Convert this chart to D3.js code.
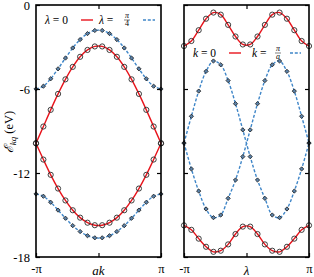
<!DOCTYPE html>
<html><head><meta charset="utf-8">
<script src="https://cdn.jsdelivr.net/npm/d3@7"></script>
<style>body{margin:0;background:#fff}svg{display:block}text{font-family:"Liberation Serif","DejaVu Serif",serif;fill:#000}</style>
</head><body><svg id="c" width="314" height="277"></svg>
<script>
// positions along the axis, in units of pi (18 sample points)
const samples = [-1, -0.882, -0.765, -0.647, -0.529, -0.412, -0.294, -0.176, -0.059, 0.059, 0.176, 0.294, 0.412, 0.529, 0.647, 0.765, 0.882, 1];
// Left panel: E vs ak
const redUpperL  = [-9.88, -8.68, -7.49, -6.35, -5.31, -4.42, -3.70, -3.21, -2.96, -2.96, -3.21, -3.70, -4.42, -5.31, -6.35, -7.49, -8.68, -9.88];
const redLowerL  = [-9.88, -11.04, -12.13, -13.11, -13.96, -14.66, -15.19, -15.55, -15.73, -15.73, -15.55, -15.19, -14.66, -13.96, -13.11, -12.13, -11.04, -9.88];
const blueUpperL = [-6.00, -5.80, -5.27, -4.56, -3.79, -3.07, -2.47, -2.04, -1.82, -1.82, -2.04, -2.47, -3.07, -3.79, -4.56, -5.27, -5.80, -6.00];
const blueLowerL = [-13.50, -13.66, -14.09, -14.65, -15.23, -15.76, -16.18, -16.48, -16.63, -16.63, -16.48, -16.18, -15.76, -15.23, -14.65, -14.09, -13.66, -13.50];
// Right panel: E vs lambda
const redUpperR = [-2.93, -2.57, -1.80, -0.98, -0.54, -0.69, -1.42, -2.25, -2.82, -2.82, -2.25, -1.42, -0.69, -0.54, -0.98, -1.80, -2.57, -2.93];
const redLowerR = [-15.74, -16.06, -16.69, -17.27, -17.63, -17.55, -17.10, -16.36, -15.83, -15.83, -16.36, -17.10, -17.55, -17.63, -17.27, -16.69, -16.06, -15.74];
const blueAR = [-9.86, -7.95, -6.15, -4.74, -4.00, -4.27, -5.40, -7.05, -8.92, -10.83, -12.50, -13.81, -15.00, -15.19, -14.57, -13.29, -11.71, -9.86];
const blueBR = [-9.86, -11.71, -13.29, -14.57, -15.19, -15.00, -13.81, -12.50, -10.83, -8.92, -7.05, -5.40, -4.27, -4.00, -4.74, -6.15, -7.95, -9.86];

const yTicks = [0, -6, -12, -18];
const yTickLabels = ["0", "-6", "-12", "-18"];
const xTickLabels = ["-π", "π"];

const svg = d3.select("#c");
const y = d3.scaleLinear().domain([-18, 0]).range([257, 5]);
const panels = [
  {x: d3.scaleLinear().domain([-1, 1]).range([36, 161]), labels: true, title: "ak",
   series: [
     {v: redUpperL, type: "red"}, {v: redLowerL, type: "red"},
     {v: blueUpperL, type: "blue"}, {v: blueLowerL, type: "blue"}]},
  {x: d3.scaleLinear().domain([-1, 1]).range([184, 309]), labels: false, title: "λ",
   series: [
     {v: redUpperR, type: "red"}, {v: redLowerR, type: "red"},
     {v: blueAR, type: "blue"}, {v: blueBR, type: "blue"}]}
];

const RED = "#e8141c", BLUE = "#3f86c8";

panels.forEach(p => {
  const x = p.x;
  const [x0, x1] = x.range();
  const g = svg.append("g");
  const line = d3.line().x((d, i) => x(samples[i])).y(d => y(d)).curve(d3.curveCatmullRom.alpha(0.5));
  p.series.forEach(s => {
    g.append("path").datum(s.v).attr("d", line).attr("fill", "none")
      .attr("stroke", s.type === "red" ? RED : BLUE)
      .attr("stroke-width", 1.4)
      .attr("stroke-dasharray", s.type === "red" ? null : "3,1.8");
  });
  p.series.forEach(s => {
    if (s.type === "red") {
      g.selectAll(null).data(s.v).join("circle")
        .attr("cx", (d, i) => x(samples[i])).attr("cy", d => y(d)).attr("r", 2.6)
        .attr("fill", "none").attr("stroke", "#2a2a2a").attr("stroke-width", 0.9);
    } else {
      g.selectAll(null).data(s.v).join("path")
        .attr("transform", (d, i) => `translate(${x(samples[i])},${y(d)}) rotate(45)`)
        .attr("d", d3.symbol(d3.symbolSquare, 9))
        .attr("fill", "#5a82aa").attr("stroke", "#222").attr("stroke-width", 0.8);
    }
  });
  const left = d3.axisLeft(y).tickValues(yTicks).tickSizeInner(-4).tickSizeOuter(0).tickPadding(6)
    .tickFormat((d, i) => p.labels ? yTickLabels[i] : "");
  const right = d3.axisRight(y).tickValues(yTicks).tickSizeInner(-4).tickSizeOuter(0).tickFormat("");
  const bottom = d3.axisBottom(x).tickValues([-1, 0, 1]).tickSizeInner(-4).tickSizeOuter(0).tickPadding(7)
    .tickFormat(d => d === -1 ? xTickLabels[0] : d === 1 ? xTickLabels[1] : "");
  const top = d3.axisTop(x).tickValues([0]).tickSizeInner(-4).tickSizeOuter(0).tickFormat("");
  [[left, `translate(${x0},0)`], [right, `translate(${x1},0)`], [bottom, "translate(0,257)"], [top, "translate(0,5)"]]
    .forEach(([ax, tr]) => {
      const a = svg.append("g").attr("transform", tr).call(ax);
      a.select(".domain").remove();
      a.selectAll("line").attr("stroke", "#000").attr("stroke-width", 1.2);
      a.selectAll("text").attr("font-family", "Liberation Serif, serif").attr("font-size", 12.5).attr("fill", "#000");
    });
  svg.append("rect").attr("x", x0).attr("y", 5).attr("width", x1 - x0).attr("height", 252)
    .attr("fill", "none").attr("stroke", "#000").attr("stroke-width", 1.6);
  svg.append("text").attr("x", (x0 + x1) / 2).attr("y", 275).attr("text-anchor", "middle")
    .attr("font-size", 13).attr("font-style", "italic").text(p.title);
});

// y-axis title
const yt = svg.append("text").attr("transform", "translate(13,132) rotate(-90)")
  .attr("text-anchor", "middle").attr("font-size", 12.5);
yt.append("tspan").attr("font-style", "italic").text("ℰ");
yt.append("tspan").attr("font-size", 9).attr("font-style", "italic").attr("dy", 3).text("kq");
yt.append("tspan").attr("dy", -3).text(" (eV)");

// left legend
svg.append("text").attr("x", 45).attr("y", 24).attr("font-size", 11.5)
  .html('<tspan font-style="italic">λ</tspan> = 0');
svg.append("line").attr("x1", 81).attr("x2", 93).attr("y1", 20).attr("y2", 20).attr("stroke", RED).attr("stroke-width", 1.4);
svg.append("text").attr("x", 99).attr("y", 24).attr("font-size", 11.5)
  .html('<tspan font-style="italic">λ</tspan> =');
svg.append("text").attr("x", 127).attr("y", 18).attr("font-size", 8).attr("text-anchor", "middle").attr("font-style", "italic").text("π");
svg.append("line").attr("x1", 124).attr("x2", 130).attr("y1", 20).attr("y2", 20).attr("stroke", "#000").attr("stroke-width", 0.5);
svg.append("text").attr("x", 127).attr("y", 26).attr("font-size", 8).attr("text-anchor", "middle").text("4");
svg.append("line").attr("x1", 143).attr("x2", 155).attr("y1", 20).attr("y2", 20).attr("stroke", BLUE).attr("stroke-width", 1.4).attr("stroke-dasharray", "3,1.8");
// right legend
svg.append("text").attr("x", 193).attr("y", 57).attr("font-size", 11.5)
  .html('<tspan font-style="italic">k</tspan> = 0');
svg.append("line").attr("x1", 229).attr("x2", 241).attr("y1", 53).attr("y2", 53).attr("stroke", RED).attr("stroke-width", 1.4);
svg.append("text").attr("x", 252).attr("y", 57).attr("font-size", 11.5)
  .html('<tspan font-style="italic">k</tspan> =');
svg.append("text").attr("x", 278).attr("y", 51).attr("font-size", 8).attr("text-anchor", "middle").attr("font-style", "italic").text("π");
svg.append("line").attr("x1", 275).attr("x2", 281).attr("y1", 53).attr("y2", 53).attr("stroke", "#000").attr("stroke-width", 0.5);
svg.append("text").attr("x", 278).attr("y", 59).attr("font-size", 8).attr("text-anchor", "middle").attr("font-style", "italic").text("a");
svg.append("line").attr("x1", 290).attr("x2", 301).attr("y1", 53).attr("y2", 53).attr("stroke", BLUE).attr("stroke-width", 1.4).attr("stroke-dasharray", "3,1.8");
</script></body></html>
